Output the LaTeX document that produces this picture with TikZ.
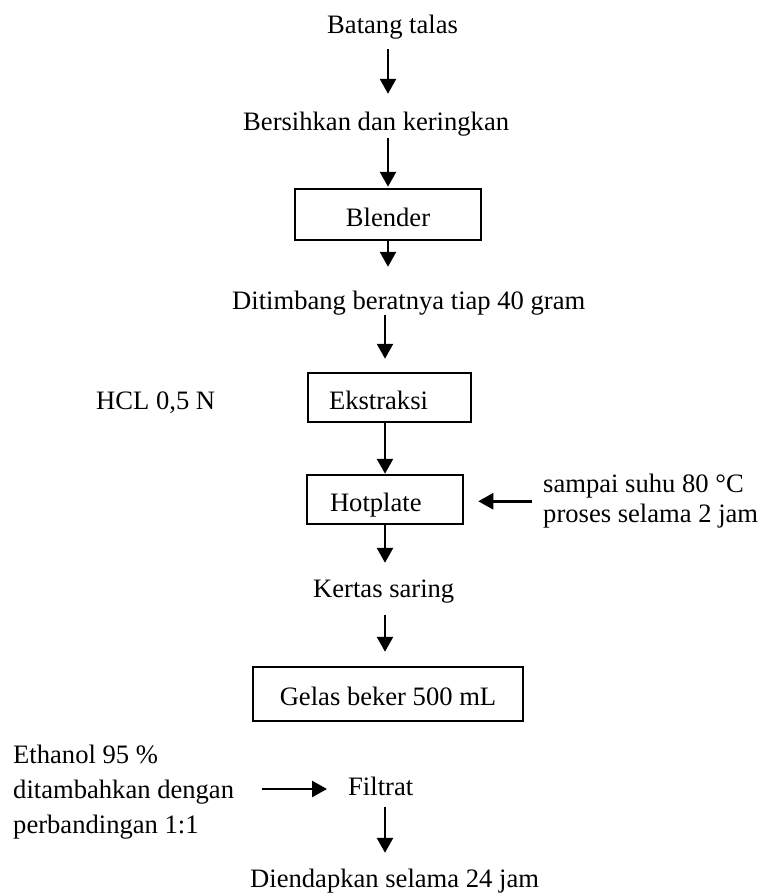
\documentclass[tikz,border=0pt]{standalone}
\usepackage{fontspec}
\setmainfont{Liberation Serif}
\usetikzlibrary{arrows.meta}
\tikzset{
  txt/.style={inner sep=0pt, anchor=base west, font=\fontsize{26.6}{30}\selectfont, text height=18pt, text depth=6pt},
  multi/.style={inner sep=0pt, anchor=north west, align=left},
  boxnode/.style={draw, line width=2.5pt, inner ysep=0pt, font=\fontsize{26.6}{30}\selectfont, text height=24pt, text depth=1pt},
  arr/.style={line width=2.6pt, -{Triangle[width=16pt,length=15pt]}}
}
\begin{document}
\begin{tikzpicture}[x=1pt,y=-1pt]
\useasboundingbox (0,0) rectangle (761,894);
% nodes
\node[txt] (bat) at (327,33) {Batang talas};
\node[txt] (ber) at (243,130) {Bersihkan dan keringkan};
\node[boxnode, minimum width=186pt, minimum height=51pt, inner xsep=0pt] (ble) at (388,214.5) {Blender};
\node[txt] (dit) at (232,309) {Ditimbang beratnya tiap 40 gram};
\node[txt] (hcl) at (96,409) {HCL 0,5 N};
\node[boxnode, minimum height=49pt, inner xsep=21pt, text width=121pt, align=left] (eks) at (389.5,397.5) {Ekstraksi};
\node[boxnode, minimum height=49pt, inner xsep=23pt, text width=110pt, align=left] (hot) at (385,499.5) {Hotplate};
\node[multi, font=\fontsize{26.6}{30}\selectfont] (sam) at (543,474) {sampai suhu 80 °C\\proses selama 2 jam};
\node[txt] (ker) at (313,597) {Kertas saring};
\node[boxnode, minimum width=270pt, minimum height=54pt, inner xsep=0pt] (gel) at (388,694) {Gelas beker 500 mL};
\node[multi, font=\fontsize{26.6}{35}\selectfont] (eth) at (13,745) {Ethanol 95 \%\\ditambahkan dengan\\perbandingan 1:1};
\node[txt] (fil) at (348,795) {Filtrat};
\node[txt] (die) at (250,887) {Diendapkan selama 24 jam};
% connectors
\draw[arr, shorten <=10pt, shorten >=18pt] (bat.south -| ble) -- (ber.north -| ble);
\draw[arr, shorten <=2pt, shorten >=1pt] (ber.south -| ble) -- (ble.north);
\draw[arr, shorten >=24pt] (ble.south) -- (dit.north -| ble);
\draw[arr, shorten >=13pt] (dit.south -| hot) -- (eks.north -| hot);
\draw[arr] (eks.south -| hot) -- (hot.north);
\draw[arr, shorten >=16pt] (hot.south) -- (ker.north -| hot);
\draw[arr, shorten <=12pt, shorten >=14pt] (ker.south -| hot) -- (gel.north -| hot);
\draw[arr, shorten <=6pt, shorten >=16pt] (fil.south -| hot) -- (die.north -| hot);
\draw[arr, shorten <=11pt, shorten >=14pt] (sam.west) -- (hot.east |- sam.west);
\draw[arr, shorten <=28pt, shorten >=21pt] (eth.east |- fil.west) -- (fil.west);
\end{tikzpicture}
\end{document}
